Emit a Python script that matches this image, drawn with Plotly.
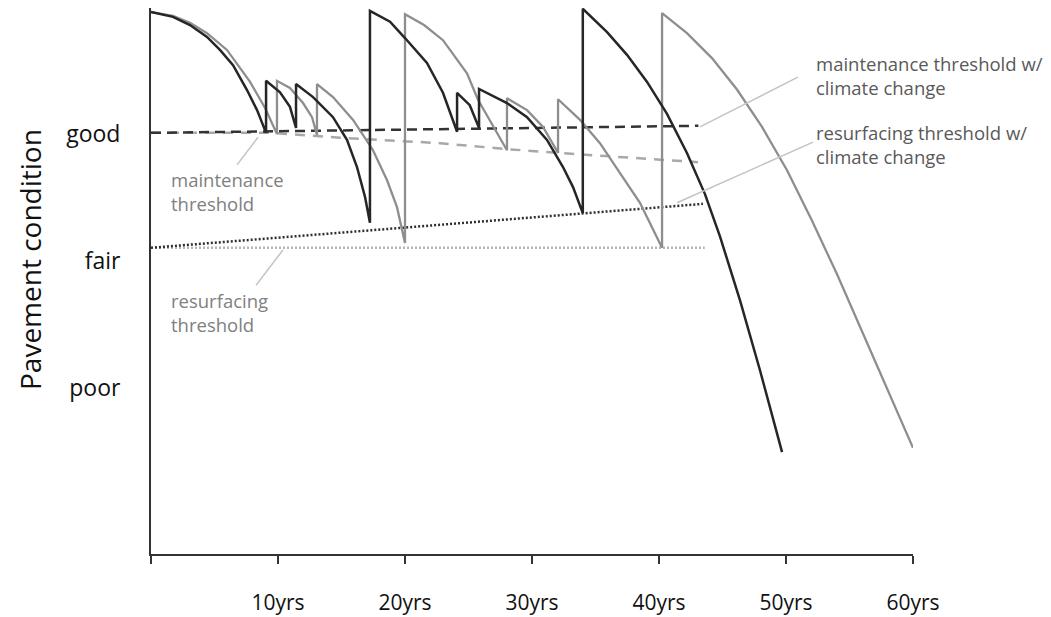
import plotly.graph_objects as go

# ---------------- data (years, condition index 0-100) ----------------
# condition of pavement with climate change (black)
cc_years = [0, 1.73, 3.07, 4.41, 5.43, 6.46, 7.56, 8.35, 9.06,
            9.06, 10.16, 10.94, 11.42,
            11.42, 12.76, 14.33, 15.43, 16.22, 16.85, 17.24,
            17.24, 18.82, 20.0, 21.73, 22.99, 24.1,
            24.1, 25.1, 25.83,
            25.83, 28.03, 29.61, 31.18, 32.44, 33.23, 34.0,
            34.0, 35.91, 37.48, 39.06, 40.63, 42.2, 43.62, 44.8, 46.38, 47.95, 49.69]
cc_cond = [100, 99.1, 97.6, 95.4, 93.0, 90.2, 85.6, 81.9, 77.7,
           87.3, 85.2, 82.5, 78.6,
           86.7, 84.3, 80.6, 76.4, 71.4, 65.9, 61.1,
           100.2, 98.2, 95.2, 90.6, 85.1, 77.9,
           85.1, 82.8, 78.6,
           85.8, 83.2, 80.6, 76.4, 71.4, 67.7, 62.9,
           100.6, 96.3, 92.1, 87.1, 81.2, 74.0, 66.4, 58.6, 46.8, 33.9, 18.8]

# condition of pavement without climate change (grey)
base_years = [0, 1.73, 3.07, 4.41, 5.98, 7.80, 8.98, 9.92,
              9.92, 10.94, 11.97, 12.68, 13.07,
              13.07, 14.33, 15.91, 17.48, 18.58, 19.37, 20.0,
              20.0, 21.5, 22.99, 24.88, 25.75, 28.03,
              28.03, 29.61, 30.87, 32.05,
              32.05, 33.78, 35.35, 36.93, 38.5, 40.24,
              40.24, 42.2, 44.17, 46.14, 48.11, 50.08, 52.05, 54.02, 55.98, 57.95, 60.0]
base_cond = [100, 99.3, 98.0, 96.1, 93.0, 87.1, 82.3, 77.5,
             87.3, 86.0, 83.2, 80.6, 77.3,
             86.7, 84.3, 80.1, 74.5, 69.0, 64.0, 57.4,
             99.6, 97.6, 94.8, 88.7, 83.8, 74.5,
             84.1, 81.9, 78.8, 74.0,
             83.9, 80.1, 75.8, 70.3, 64.8, 56.5,
             99.8, 96.1, 91.5, 85.7, 78.8, 70.8, 61.5, 51.6, 41.2, 30.6, 19.6]

# thresholds
maint_cc_years = [0, 43.1]
maint_cc_cond = [77.7, 79.0]
maint_years = [0, 9.61, 14.88, 22.76, 28.03, 32.05, 43.07]
maint_cond = [77.7, 77.7, 76.8, 75.8, 74.7, 74.0, 72.3]
resurf_cc_years = [0, 43.46]
resurf_cc_cond = [56.5, 64.6]
resurf_years = [0, 43.6]
resurf_cond = [56.5, 56.5]

# axes
x_tickvals = [0, 10, 20, 30, 40, 50, 60]
x_ticktext = ["", "10yrs", "20yrs", "30yrs", "40yrs", "50yrs", "60yrs"]
y_tickvals = [77.5, 54.1, 30.6]
y_ticktext = ["good", "fair", "poor"]

FONT = "Open Sans"

# figure geometry (the page body adds an 8px offset)
W, H = 1043, 609
ML, MR, MT, MB = 143, 138, 0, 63
PW, PH = W - ML - MR, H - MT - MB

fig = go.Figure()
fig.add_trace(go.Scatter(x=resurf_years, y=resurf_cond, mode="lines",
                         line=dict(color="#b5b5b5", width=2.5, dash="2px,2px")))
fig.add_trace(go.Scatter(x=resurf_cc_years, y=resurf_cc_cond, mode="lines",
                         line=dict(color="#2e2e2e", width=2.5, dash="2px,2px")))
fig.add_trace(go.Scatter(x=maint_years, y=maint_cond, mode="lines",
                         line=dict(color="#a8a8a8", width=2.5, dash="10px,8px")))
fig.add_trace(go.Scatter(x=maint_cc_years, y=maint_cc_cond, mode="lines",
                         line=dict(color="#333333", width=2.5, dash="10px,6px")))
fig.add_trace(go.Scatter(x=base_years, y=base_cond, mode="lines",
                         line=dict(color="#8e8e8e", width=2.3)))
fig.add_trace(go.Scatter(x=cc_years, y=cc_cond, mode="lines",
                         line=dict(color="#262626", width=2.5)))

# leader lines of the labels
leaders = [
    ((43.23, 78.8), (50.94, 88.0)),
    ((41.42, 64.8), (52.13, 76.0)),
    ((6.77, 71.8), (8.43, 76.9)),
    ((8.27, 49.6), (10.39, 56.1)),
]
for (x0, y0), (x1, y1) in leaders:
    fig.add_shape(type="line", xref="x", yref="y", x0=x0, y0=y0, x1=x1, y1=y1,
                  line=dict(color="#c4c4c4", width=1.5))

labels = [
    (52.2, 88.3, "maintenance threshold w/<br>climate change", "#595959"),
    (52.2, 75.6, "resurfacing threshold w/<br>climate change", "#595959"),
    (1.42, 66.9, "maintenance<br>threshold", "#808080"),
    (1.42, 44.6, "resurfacing<br>threshold", "#808080"),
]
for x, y, t, c in labels:
    fig.add_annotation(x=x, y=y, xref="x", yref="y", text=t, showarrow=False,
                       xanchor="left", yanchor="middle", align="left",
                       font=dict(family=FONT, size=18.5, color=c))

# y-axis title (page pixel position ~ x=30, y=260)
fig.add_annotation(x=(30 - 8 - ML) / PW, y=(H - MB - (260 - 8)) / PH,
                   xref="paper", yref="paper", text="Pavement condition",
                   showarrow=False, textangle=-90, xanchor="center", yanchor="middle",
                   font=dict(family=FONT, size=28, color="#111"))

fig.update_layout(
    width=W, height=H, autosize=False,
    margin=dict(l=ML, r=MR, t=MT, b=MB, pad=0),
    paper_bgcolor="white", plot_bgcolor="white",
    showlegend=False,
    font=dict(family=FONT, color="#111"),
    xaxis=dict(range=[0, 60], tickvals=x_tickvals, ticktext=x_ticktext,
               showgrid=False, zeroline=False, showline=True, linecolor="#333",
               linewidth=2, ticks="outside", ticklen=8, tickwidth=2, tickcolor="#333",
               tickfont=dict(family=FONT, size=21, color="#111"), ticklabelstandoff=21),
    yaxis=dict(range=[0, 100.74], tickvals=y_tickvals, ticktext=y_ticktext,
               showgrid=False, zeroline=False, showline=True, linecolor="#333",
               linewidth=2, ticks="", tickfont=dict(family=FONT, size=23, color="#111"),
               ticklabelstandoff=24),
)

fig.write_html("out.html")
